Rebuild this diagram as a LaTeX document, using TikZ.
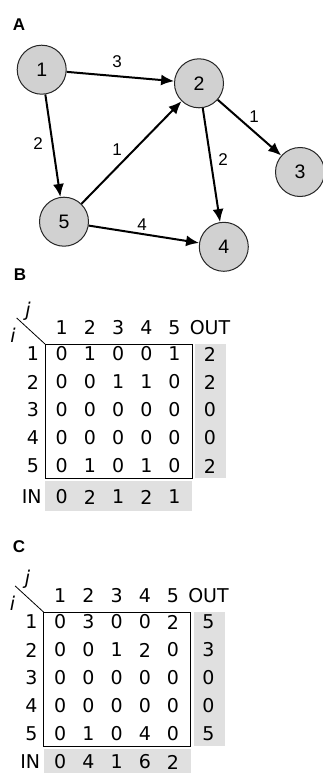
\documentclass[tikz,border=0pt]{standalone}
\usepackage{fontspec}
\setmainfont{Liberation Sans}
\newfontfamily\matfont{DejaVu Sans}
\usetikzlibrary{arrows.meta}

\begin{document}
\begin{tikzpicture}[x=1pt, y=-1pt,
    vertex/.style={circle, draw=black!85, line width=1pt, fill=black!18, minimum size=49pt, inner sep=0pt, font=\fontsize{19.5}{19.5}\selectfont},
    link/.style={-{Latex[length=13pt,width=11pt]}, line width=2pt},
    weight/.style={font=\fontsize{17}{17}\selectfont},
    panel/.style={font=\bfseries\fontsize{17}{17}\selectfont},
    cell/.style={inner sep=0.5pt, font=\matfont\fontsize{19}{19}\selectfont},
    index/.style={inner sep=0.5pt, font=\matfont\itshape\fontsize{19}{19}\selectfont},
    shade/.style={fill=black!12}]
    \useasboundingbox (0,0) rectangle (323,773);

    % A: the network
    \node[panel] (labA) at (19,25) {A};
    \node[vertex] (n1) at (41.7,69.7) {1};
    \node[vertex] (n2) at (199,83.3) {2};
    \node[vertex] (n3) at (300,172) {3};
    \node[vertex] (n4) at (223.8,246.8) {4};
    \node[vertex] (n5) at (64,221.7) {5};

    \draw[link] (n1) -- (n2);
    \draw[link] (n1) -- (n5);
    \draw[link] (n5) -- (n2);
    \draw[link] (n2) -- (n4);
    \draw[link] (n2) -- (n3);
    \draw[link] (n5) -- (n4);

    \node[weight] (w12) at (117,62) {3};
    \node[weight] (w15) at (38,144) {2};
    \node[weight] (w52) at (117,150) {1};
    \node[weight] (w24) at (223,160) {2};
    \node[weight] (w23) at (254,117) {1};
    \node[weight] (w54) at (142,225) {4};

    % B: adjacency matrix
    \begin{scope}
        \node[panel] (labB) at (20,275) {B};
        \fill[shade] (195,344) rectangle (226,478);
        \fill[shade] (45,481) rectangle (192,511);
        \draw[line width=0.8pt] (45,344) rectangle (192,478);
        \coordinate (cornB) at (45,344);
        \coordinate (tipB) at (16.7,318);
        \draw[line width=0.8pt] (tipB) -- (cornB);
        \node[index] (jB) at (28,311) {j};
        \node[index] (iB) at (13,335) {i};
        \foreach \c in {1,...,5}
            \node[cell] (B-h\c) at (33.5+28.2*\c,327.3) {\c};
        \node[cell] (B-out) at (210,327.3) {OUT};
        \foreach \r/\vals/\o in {1/{0,1,0,0,1}/2, 2/{0,0,1,1,0}/2, 3/{0,0,0,0,0}/0, 4/{0,0,0,0,0}/0, 5/{0,1,0,1,0}/2} {
            \node[cell] (B-r\r) at (33,326+28*\r) {\r};
            \foreach \v [count=\c] in \vals
                \node[cell] (B-\r-\c) at (33.5+28.2*\c,326+28*\r) {\v};
            \node[cell] (B-o\r) at (210,326+28*\r) {\o};
        }
        \node[cell] (B-in) at (31.7,497) {IN};
        \foreach \v [count=\c] in {0,2,1,2,1}
            \node[cell] (B-i\c) at (33.5+28.2*\c,497) {\v};
    \end{scope}

    % C: weighted matrix
    \begin{scope}[shift={(-1.5,268)}]
        \node[panel] (labC) at (20.5,278.7) {C};
        \fill[shade] (195,344) rectangle (226,478);
        \fill[shade] (45,481) rectangle (192,511);
        \draw[line width=0.8pt] (45,344) rectangle (192,478);
        \coordinate (cornC) at (45,344);
        \coordinate (tipC) at (16.7,318);
        \draw[line width=0.8pt] (tipC) -- (cornC);
        \node[index] (jC) at (29,311) {j};
        \node[index] (iC) at (14,335) {i};
        \foreach \c in {1,...,5}
            \node[cell] (C-h\c) at (33.5+28.2*\c,327.3) {\c};
        \node[cell] (C-out) at (210,327.3) {OUT};
        \foreach \r/\vals/\o in {1/{0,3,0,0,2}/5, 2/{0,0,1,2,0}/3, 3/{0,0,0,0,0}/0, 4/{0,0,0,0,0}/0, 5/{0,1,0,4,0}/5} {
            \node[cell] (C-r\r) at (33,326+28*\r) {\r};
            \foreach \v [count=\c] in \vals
                \node[cell] (C-\r-\c) at (33.5+28.2*\c,326+28*\r) {\v};
            \node[cell] (C-o\r) at (210,326+28*\r) {\o};
        }
        \node[cell] (C-in) at (31.7,494) {IN};
        \foreach \v [count=\c] in {0,4,1,6,2}
            \node[cell] (C-i\c) at (33.5+28.2*\c,494) {\v};
    \end{scope}
\end{tikzpicture}
\end{document}
